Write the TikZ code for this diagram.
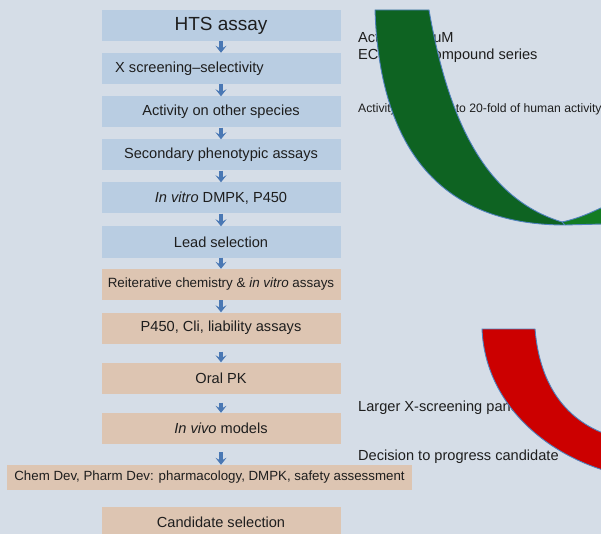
\documentclass[tikz,border=0pt]{standalone}
\usepackage{fontspec}
\setmainfont{Liberation Sans}
\usetikzlibrary{arrows.meta}
\definecolor{bg}{HTML}{D5DDE7}
\definecolor{bluebox}{HTML}{B9CDE2}
\definecolor{tanbox}{HTML}{DDC5B2}
\definecolor{arrowblue}{HTML}{4A78B4}
\definecolor{txt}{HTML}{1E1E1E}
\definecolor{gdark}{HTML}{0E6322}
\definecolor{glight}{HTML}{137C23}
\definecolor{redshape}{HTML}{CC0000}
\definecolor{edgeblue}{HTML}{4F81BD}
\tikzset{
  fsz/.style={font=\fontsize{#1}{#1}\selectfont},
  bbox/.style={fill=bluebox, minimum width=239pt, minimum height=31pt, inner sep=0pt, text=txt, fsz=14.6},
  tbox/.style={fill=tanbox, minimum width=239pt, minimum height=31pt, inner sep=0pt, text=txt, fsz=14.6},
  arr/.style={draw=arrowblue, line width=3.2pt, -{Stealth[length=7pt,width=11pt,inset=3pt]}},
  note/.style={anchor=base west, inner sep=0pt, text=txt, fsz=14.6},
  band/.style={draw=edgeblue, line width=0.9pt, line join=round}
}
\begin{document}
\begin{tikzpicture}[x=1pt,y=-1pt]
\useasboundingbox (0,0) rectangle (601,534);
\fill[bg] (0,0) rectangle (601,534);
\clip (0,0) rectangle (601,534);

\node[bbox] (b1) at (221,25.5) {\fontsize{19}{19}\selectfont HTS assay};
\node[bbox] (b2) at (221,68.5) {};
\node[anchor=west, inner sep=0pt, text=txt, fsz=14.6] (b2t) at (115,68.5) {X screening–selectivity};
\node[bbox] (b3) at (221,112) {Activity on other species};
\node[bbox] (b4) at (221,155) {Secondary phenotypic assays};
\node[bbox] (b5) at (221,198) {\textit{In vitro} DMPK, P450};
\node[bbox] (b6) at (221,242) {Lead selection};
\node[tbox, fsz=13.4] (b7) at (221,284.5) {Reiterative chemistry \& \textit{in vitro} assays};
\node[tbox] (b8) at (221,328) {P450, Cli, liability assays};
\node[tbox] (b9) at (221,378) {Oral PK};
\node[tbox] (b10) at (221,428.5) {\textit{In vivo} models};
\node[fill=tanbox, minimum width=405pt, minimum height=25pt, inner sep=0pt, text=txt, fsz=13.3] (b11) at (209.5,477.5) {Chem Dev, Pharm Dev: pharmacology, DMPK, safety assessment};
\node[tbox] (b12) at (221,522.5) {Candidate selection};

\draw[arr, shorten <=0pt] (b1) -- (b2);
\draw[arr, shorten <=0pt] (b2) -- (b3);
\draw[arr, shorten <=0pt] (b3) -- (b4);
\draw[arr, shorten <=0pt] (b4) -- (b5);
\draw[arr, shorten <=0pt] (b5) -- (b6);
\draw[arr, shorten <=0pt] (b6) -- (b7);
\draw[arr, shorten <=0pt] (b7) -- (b8);
\draw[arr, shorten <=8pt] (b8) -- (b9);
\draw[arr, shorten <=9pt] (b9) -- (b10);
\draw[arr, shorten <=8pt] (b10.south) -- (b11.north -| b10.south);

\node[note] (n1) at (358,43) {Activity <10uM};
\node[note] (n2) at (358,60) {EC50 in 2 compound series};
\node[note, fsz=12.2] (n3) at (358,113) {Activity within 10- to 20-fold of human activity};
\node[note] (n4) at (358,411) {Larger X-screening panel};
\node[note] (n5) at (358,460) {Decision to progress candidate};

% green curved band
\fill[glight] (562,222) .. controls (580,218) and (592,212) .. (603,207) -- (603,224) -- (562,225) -- cycle;
\draw[band] (562,222) .. controls (580,218) and (592,212) .. (603,207);
\filldraw[band, fill=gdark] (375,10) -- (429,10) .. controls (450,130) and (490,200) .. (562,222)
  -- (565,225) .. controls (450,225) and (380,160) .. (375,10) -- cycle;
\draw[band] (565,225) -- (603,224);

% red curved band
\filldraw[band, fill=redshape] (482,329) -- (535,329) .. controls (540,390) and (570,420) .. (603,433)
  -- (603,470) .. controls (540,450) and (485,400) .. (482,329) -- cycle;
\end{tikzpicture}
\end{document}
